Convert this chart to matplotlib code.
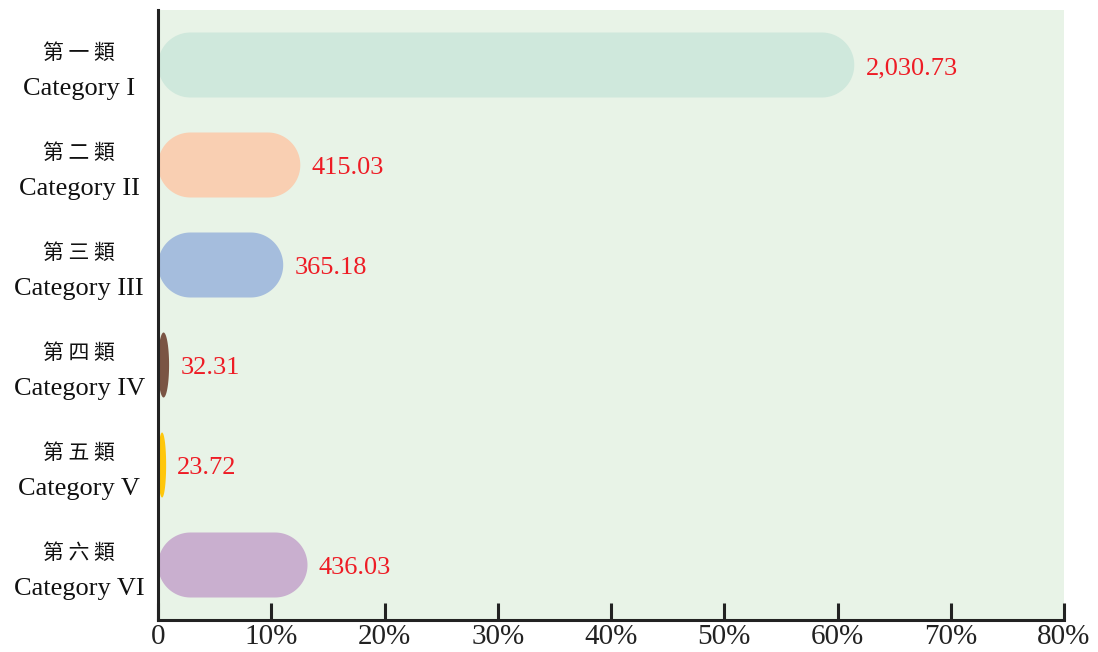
import numpy as np
import matplotlib
matplotlib.use('Agg')
from matplotlib import pyplot as plt
from matplotlib.patches import Polygon
from matplotlib.ticker import FixedLocator

cats_zh = ["第 一 類", "第 二 類", "第 三 類", "第 四 類", "第 五 類", "第 六 類"]
cats_en = ["Category I", "Category II", "Category III", "Category IV", "Category V", "Category VI"]
values = [2030.73, 415.03, 365.18, 32.31, 23.72, 436.03]
colors = ["#cfe8dc", "#f9cfb2", "#a5bddd", "#7a5444", "#ffc70b", "#c9afcf"]
xticks = [0, 10, 20, 30, 40, 50, 60, 70, 80]
xticklabels = ["0", "10%", "20%", "30%", "40%", "50%", "60%", "70%", "80%"]

total = sum(values)
pct = [v / total * 100 for v in values]

fig = plt.figure(figsize=(10.98, 6.52), dpi=100)
ax = fig.add_axes([158 / 1098, 1 - 620 / 652, 906 / 1098, 610 / 652])
ax.set_facecolor("#e8f3e7")
ax.set_xlim(0, 80)
ax.set_ylim(5.55, -0.55)

for s in ["top", "right"]:
    ax.spines[s].set_visible(False)
for s in ["left", "bottom"]:
    ax.spines[s].set_linewidth(2.2)
    ax.spines[s].set_color("#222222")

# pixel scale of data units
p0 = ax.transData.transform((0, 0))
p1 = ax.transData.transform((1, 1))
px_x = abs(p1[0] - p0[0])
px_y = abs(p1[1] - p0[1])

bar_h = 0.65


def pill(x0, x1, yc, h):
    h_px = h * px_y
    w_px = (x1 - x0) * px_x
    r = h_px / 2
    rx = min(r, w_px / 2) / px_x
    ry = min(r, h_px / 2) / px_y
    y0, y1 = yc - h / 2, yc + h / 2
    pts = []
    t = np.linspace(0, np.pi / 2, 40)
    for cx, cy, a0 in [(x1 - rx, y1 - ry, 0), (x0 + rx, y1 - ry, np.pi / 2),
                       (x0 + rx, y0 + ry, np.pi), (x1 - rx, y0 + ry, 1.5 * np.pi)]:
        a = t + a0
        pts += list(zip(cx + rx * np.cos(a), cy + ry * np.sin(a)))
    return np.array(pts)


for i, (p, v, c) in enumerate(zip(pct, values, colors)):
    ax.add_patch(Polygon(pill(0, p, i, bar_h), closed=True, facecolor=c, edgecolor="none", zorder=2))
    ax.annotate(f"{v:,.2f}", xy=(p, i), xytext=(8, -2.5), textcoords="offset points",
                ha="left", va="center", color="#ee1c25", fontsize=19,
                family="Liberation Serif", zorder=3)

ytr = ax.get_yaxis_transform()
for i in range(len(values)):
    ax.text(-0.087, i - 0.12, cats_zh[i], transform=ytr, ha="center", va="center",
            fontsize=15, family=["Noto Sans CJK TC", "DejaVu Sans"], color="#111111")
    ax.text(-0.087, i + 0.24, cats_en[i], transform=ytr, ha="center", va="center",
            fontsize=19, family="Liberation Serif", color="#111111")

ax.set_yticks([])
ax.xaxis.set_major_locator(FixedLocator(xticks))
ax.set_xticklabels(xticklabels, family="Liberation Serif", fontsize=21, color="#222222")
ax.tick_params(axis="x", direction="in", length=12, width=2.2, color="#222222", pad=3)

fig.savefig("out.png", dpi=100)
